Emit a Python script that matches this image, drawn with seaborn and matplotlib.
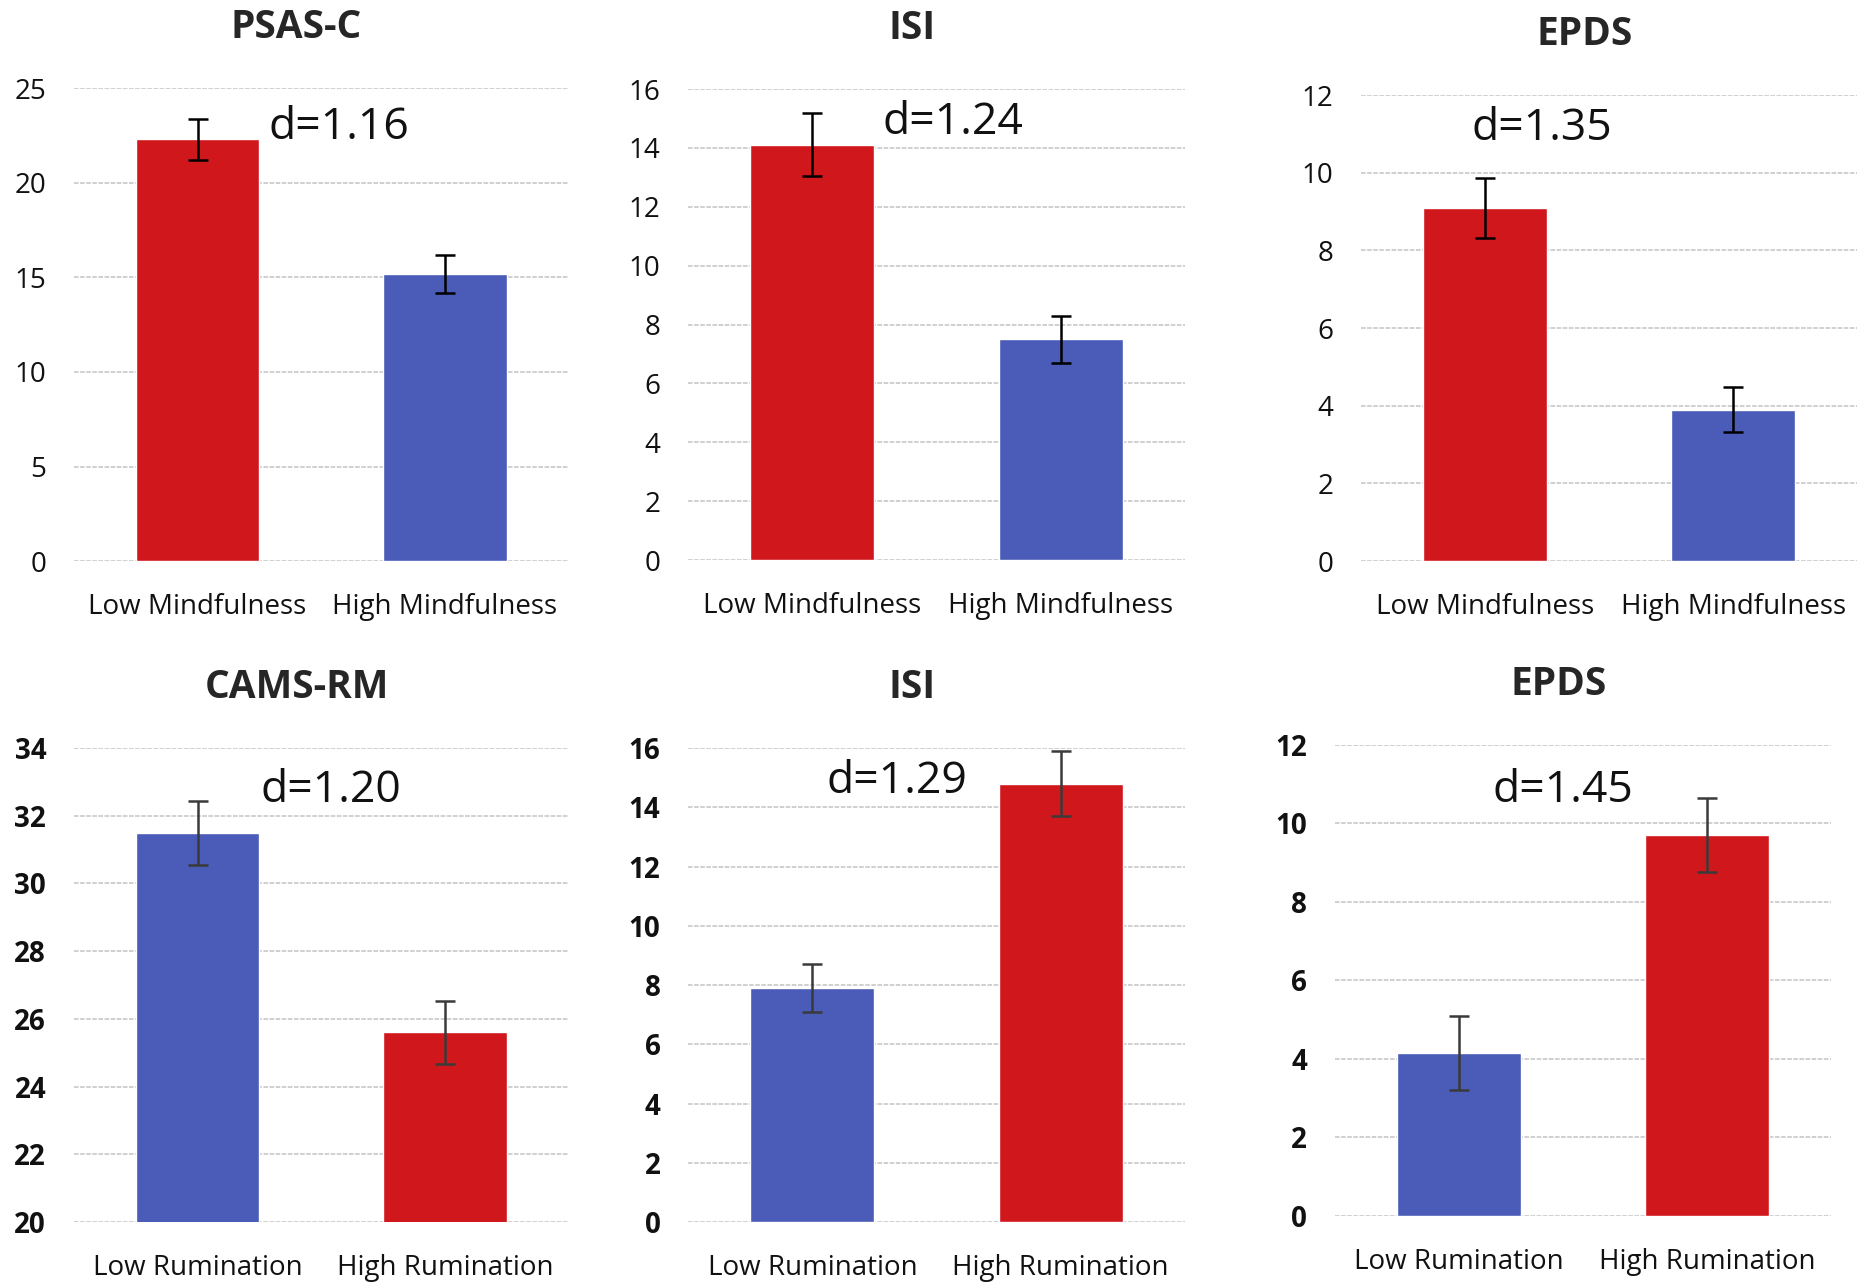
import matplotlib
matplotlib.use("Agg")
import matplotlib.pyplot as plt
import seaborn as sns
import pandas as pd

# ── Style ─────────────────────────────────────────────────────
sns.set_theme(style="white")
plt.rcParams['font.family'] = ['Open Sans', 'DejaVu Sans']

RED = "#CF171C"
BLUE = "#4A5BB8"

# ── Data ─────────────────────────────────────────────────────
mind_groups = ["Low Mindfulness", "High Mindfulness"]
rum_groups = ["Low Rumination", "High Rumination"]

psas_mean = [22.3, 15.2]
psas_err = [1.1, 1.0]
isi_mind_mean = [14.1, 7.5]
isi_mind_err = [1.07, 0.8]
epds_mind_mean = [9.1, 3.9]
epds_mind_err = [0.77, 0.57]

cams_mean = [31.5, 25.6]
cams_err = [0.95, 0.93]
isi_rum_mean = [7.9, 14.8]
isi_rum_err = [0.82, 1.1]
epds_rum_mean = [4.15, 9.7]
epds_rum_err = [0.94, 0.94]

d_labels = ["d=1.16", "d=1.24", "d=1.35", "d=1.20", "d=1.29", "d=1.45"]
d_pos = [(0.57, 22.9), (0.565, 14.86), (0.23, 11.14),
         (0.54, 32.73), (0.34, 14.87), (0.42, 10.84)]

panels = [
    ("PSAS-C", mind_groups, psas_mean, psas_err, [RED, BLUE], (0, 25), 5),
    ("ISI", mind_groups, isi_mind_mean, isi_mind_err, [RED, BLUE], (0, 16), 2),
    ("EPDS", mind_groups, epds_mind_mean, epds_mind_err, [RED, BLUE], (0, 12), 2),
    ("CAMS-RM", rum_groups, cams_mean, cams_err, [BLUE, RED], (20, 34), 2),
    ("ISI", rum_groups, isi_rum_mean, isi_rum_err, [BLUE, RED], (0, 16), 2),
    ("EPDS", rum_groups, epds_rum_mean, epds_rum_err, [BLUE, RED], (0, 12), 2),
]

# axes boxes in figure fraction [left, bottom, width, height]
boxes = [
    [0.0396, 0.5644, 0.265, 0.367],
    [0.3686, 0.5652, 0.266, 0.3657],
    [0.729, 0.5644, 0.2657, 0.3618],
    [0.0396, 0.0512, 0.265, 0.368],
    [0.3686, 0.0512, 0.266, 0.368],
    [0.715, 0.0559, 0.2657, 0.3657],
]

fig = plt.figure(figsize=(18.67, 12.88), dpi=100)

for i, (title, groups, means, errs, cols, ylim, step) in enumerate(panels):
    ax = fig.add_axes(boxes[i])
    df = pd.DataFrame({"group": groups, "mean": means})
    sns.barplot(data=df, x="group", y="mean", hue="group", palette=cols,
                saturation=1, width=0.5, errorbar=None, legend=False,
                ax=ax, zorder=2)
    ecol = "black" if i < 3 else "#3a3a3a"
    ax.errorbar(range(len(means)), means, yerr=errs, fmt="none",
                ecolor=ecol, elinewidth=1.8, capsize=7, capthick=1.8, zorder=3)

    ax.set_xlim(-0.5, 1.5)
    ax.set_ylim(*ylim)
    ax.set_yticks(range(ylim[0], ylim[1] + 1, step))
    ax.yaxis.grid(True, color="#c4c4c4", linestyle=(0, (3, 1)), linewidth=1.1, zorder=0)
    ax.set_axisbelow(True)
    for s in ax.spines.values():
        s.set_visible(False)
    ax.set_xlabel("")
    ax.set_ylabel("")
    ax.tick_params(axis="both", length=0, labelsize=20, colors="#111111")
    ax.tick_params(axis="y", pad=20)
    ax.tick_params(axis="x", pad=23)
    if i >= 3:
        for lab in ax.get_yticklabels():
            lab.set_fontweight("bold")
    # Excel centres the title over the whole chart area (incl. tick labels)
    ax.set_title(title, fontsize=28, fontweight="bold", pad=36, x=0.45)

    tx, ty = d_pos[i]
    ax.text(tx, ty, d_labels[i], fontsize=32, ha="center", va="center",
            color="#111111", zorder=4)

plt.savefig("out.png", dpi=100)
plt.close()
